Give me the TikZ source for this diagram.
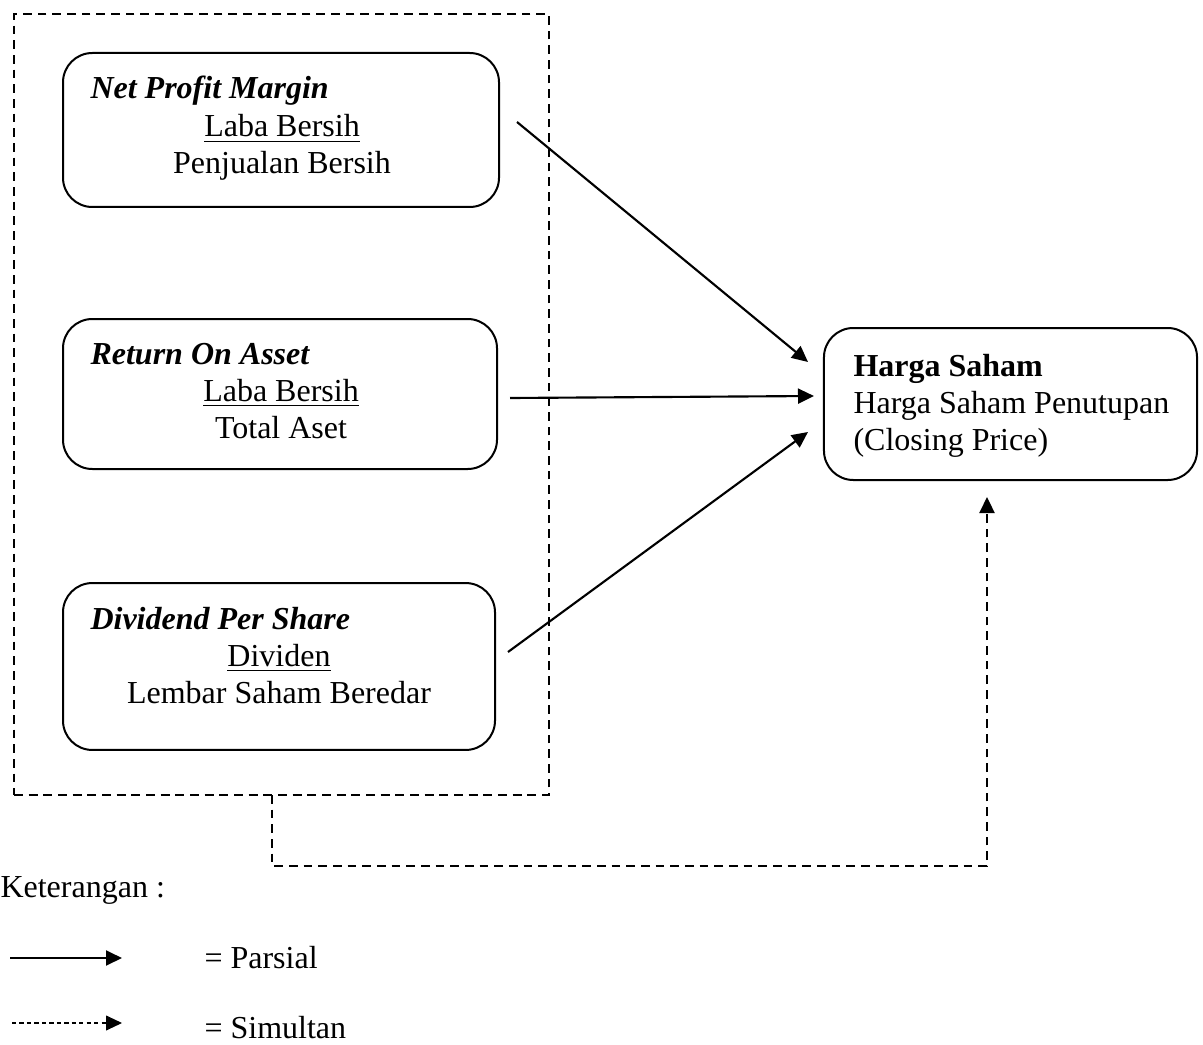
\documentclass[tikz,border=0pt]{standalone}
\usepackage{fontspec}
\setmainfont{Liberation Serif}
\usetikzlibrary{arrows.meta}
\begin{document}
\begin{tikzpicture}[x=0.375pt,y=-0.375pt,
  every node/.style={font=\fontsize{12pt}{14pt}\selectfont},
  box/.style={draw, line width=0.75pt, rounded corners=11pt, inner sep=0pt},
  grpbox/.style={draw, dash pattern=on 3.3pt off 2.2pt, line width=0.95pt, inner sep=0pt},
  arr/.style={line width=0.8pt, -{Triangle[length=6pt,width=5.6pt]}},
  darr/.style={line width=0.95pt, dash pattern=on 3.3pt off 2.2pt, -{Triangle[length=6pt,width=5.6pt]}},
  legdarr/.style={line width=0.4pt, dash pattern=on 1.6pt off 1.2pt, -{Triangle[length=6pt,width=5.6pt]}},
  lbl/.style={anchor=base west, inner sep=0pt},
  ctr/.style={anchor=base, inner sep=0pt},
]
\useasboundingbox (0,0) rectangle (1203,1045);

% dashed group box
\node[grpbox, minimum width=200.6pt, minimum height=292.9pt] (grp) at (281.5,404.5) {};

% boxes
\node[box, minimum width=163.5pt, minimum height=57.75pt] (npm) at (281,130) {};
\node[box, minimum width=162.75pt, minimum height=56.25pt] (roa) at (280,394) {};
\node[box, minimum width=162pt, minimum height=62.6pt] (dps) at (279,666.5) {};
\node[box, minimum width=139.9pt, minimum height=57pt] (hs) at (1010.5,404) {};

% texts
\node[lbl] (t1) at (90,99) {\textbf{\textit{Net Profit Margin}}};
\node[ctr] (t1a) at (282,137) {\underline{Laba Bersih}};
\node[ctr] (t1b) at (282,174) {Penjualan Bersih};

\node[lbl] (t2) at (90,364) {\textbf{\textit{Return On Asset}}};
\node[ctr] (t2a) at (281,401) {\underline{Laba Bersih}};
\node[ctr] (t2b) at (281,438) {Total Aset};

\node[lbl] (t3) at (90,629) {\textbf{\textit{Dividend Per Share}}};
\node[ctr] (t3a) at (279,666) {\underline{Dividen}};
\node[ctr] (t3b) at (279,703) {Lembar Saham Beredar};

\node[lbl] (t4) at (853,376) {\textbf{Harga Saham}};
\node[lbl] (t4a) at (853,413) {Harga Saham Penutupan};
\node[lbl] (t4b) at (853,450) {(Closing Price)};

% arrow endpoints
\coordinate (a1s) at (517,122);
\coordinate (a1e) at (808,362);
\coordinate (a2s) at (510,398);
\coordinate (a2e) at (814,396);
\coordinate (a3s) at (508,652);
\coordinate (a3e) at (808,432);
\draw[arr] (a1s) -- (a1e);
\draw[arr] (a2s) -- (a2e);
\draw[arr] (a3s) -- (a3e);

% simultaneous connector
\coordinate (s0) at (272,795);
\coordinate (s1) at (272,866);
\coordinate (s2) at (987,866);
\coordinate (s3) at (987,497);
\draw[darr] (s0) -- (s1) -- (s2) -- (s3);

% legend
\node[lbl] (ket) at (0,897) {Keterangan :};
\coordinate (l1s) at (10,958);
\coordinate (l1e) at (122,958);
\draw[arr] (l1s) -- (l1e);
\node[lbl] (par) at (204,968) {= Parsial};
\coordinate (l2s) at (12,1023);
\coordinate (l2e) at (122,1023);
\draw[legdarr] (l2s) -- (l2e);
\node[lbl] (sim) at (204,1038) {= Simultan};
\end{tikzpicture}
\end{document}
